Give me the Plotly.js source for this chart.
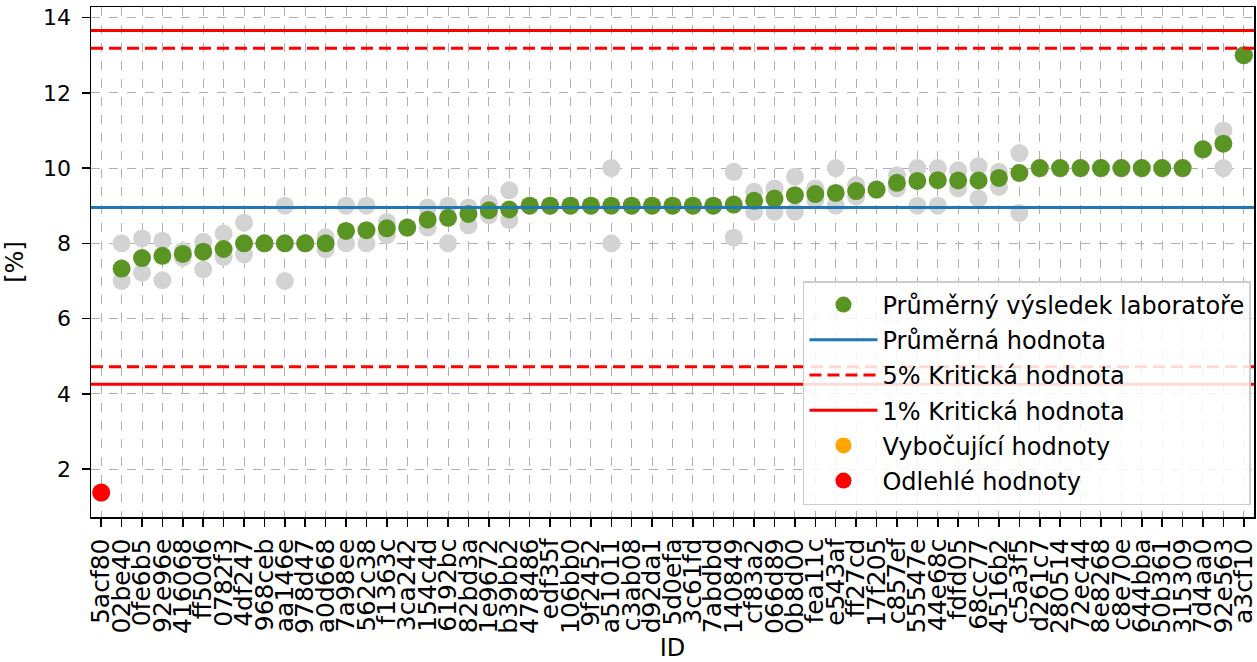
<!DOCTYPE html>
<html>
<head>
<meta charset="utf-8">
<script src="https://cdn.plot.ly/plotly-3.0.1.min.js"></script>
<style>html,body{margin:0;padding:0;background:#fff;}#chart{width:1257px;height:662px;}</style>
</head>
<body>
<div id="chart"></div>
<script>
const labIds = ["5acf80","02be40","0fe6b5","92e96e","416068","ff50d6","0782f3","4df247","968ceb","aa146e","978d47","a0d668","7a98ee","562c38","f1363c","3ca242","154c4d","6192bc","82bd3a","1e9672","b39bb2","478486","edf35f","106bb0","9f2452","a51011","c3ab08","d92da1","5d0efa","3c61fd","7abdbd","140849","cf83a2","066d89","0b8d00","fea11c","e543af","ff27cd","17f205","c857ef","55547e","44e68c","fdfd05","68cc77","4516b2","c5a3f5","d261c7","280514","72ec44","8e8268","c8e70e","644bba","50b361","315309","7d4aa0","92e563","a3cf10"];
const labMeans = [1.38,7.33,7.61,7.67,7.72,7.78,7.85,8.0,8.0,8.0,8.0,8.0,8.33,8.35,8.40,8.42,8.63,8.68,8.78,8.88,8.9,9.0,9.0,9.0,9.0,9.0,9.0,9.0,9.0,9.0,9.0,9.03,9.13,9.19,9.28,9.31,9.34,9.39,9.43,9.61,9.66,9.68,9.67,9.67,9.74,9.87,10.0,10.0,10.0,10.0,10.0,10.0,10.0,10.0,10.5,10.65,13.0];
const resultHigh = [1.38,8.0,8.13,8.07,7.8,8.04,8.26,8.55,8.0,9.0,8.0,8.16,9.0,9.0,8.57,8.42,8.95,9.0,8.95,9.06,9.41,9.0,9.0,9.0,9.0,10.0,9.0,9.0,9.0,9.0,9.0,9.9,9.37,9.46,9.77,9.46,10.0,9.55,9.43,9.81,10.0,10.0,9.94,10.05,9.9,10.4,10.0,10.0,10.0,10.0,10.0,10.0,10.0,10.0,10.5,11.0,13.0];
const resultLow = [1.38,7.0,7.22,7.02,7.62,7.31,7.64,7.71,8.0,7.0,8.0,7.84,8.0,8.0,8.22,8.42,8.42,8.0,8.48,8.75,8.62,9.0,9.0,9.0,9.0,8.0,9.0,9.0,9.0,9.0,9.0,8.15,8.84,8.84,8.84,9.15,9.0,9.24,9.43,9.46,9.0,9.0,9.46,9.19,9.5,8.81,10.0,10.0,10.0,10.0,10.0,10.0,10.0,10.0,10.5,10.0,13.0];
const outlierIds = ["5acf80"];
const overallMean = 8.955;
const crit5 = [4.725, 13.185];
const crit1 = [4.255, 13.655];

const idx = labIds.map((_, i) => i);
const xSpan = [-0.5, labIds.length - 0.5];
const normalIdx = idx.filter(i => !outlierIds.includes(labIds[i]));
const outIdx = idx.filter(i => outlierIds.includes(labIds[i]));

const greyX = [], greyY = [];
idx.forEach(i => { greyX.push(i, i); greyY.push(resultHigh[i], resultLow[i]); });

const F = "DejaVu Sans, sans-serif";
const traces = [
  {x: greyX, y: greyY, mode: "markers", type: "scatter", marker: {color: "#d3d3d3", size: 18}, showlegend: false, hoverinfo: "skip"},
  {x: normalIdx, y: normalIdx.map(i => labMeans[i]), mode: "markers", type: "scatter", name: "Průměrný výsledek laboratoře", legendgroup: "g1", marker: {color: "#5a9423", size: 18}},
  {x: xSpan, y: [overallMean, overallMean], mode: "lines", name: "Průměrná hodnota", legendgroup: "g2", line: {color: "#1f77b4", width: 3}},
  {x: xSpan, y: [crit5[1], crit5[1]], mode: "lines", name: "5% Kritická hodnota", legendgroup: "g3", line: {color: "#ff0000", width: 3, dash: "12px,6px"}},
  {x: xSpan, y: [crit5[0], crit5[0]], mode: "lines", showlegend: false, legendgroup: "g3", line: {color: "#ff0000", width: 3, dash: "12px,6px"}},
  {x: xSpan, y: [crit1[1], crit1[1]], mode: "lines", name: "1% Kritická hodnota", legendgroup: "g4", line: {color: "#ff0000", width: 3}},
  {x: xSpan, y: [crit1[0], crit1[0]], mode: "lines", showlegend: false, legendgroup: "g4", line: {color: "#ff0000", width: 3}},
  {x: [null], y: [null], mode: "markers", name: "Vybočující hodnoty", legendgroup: "g5", marker: {color: "#ffa500", size: 18}},
  {x: outIdx, y: outIdx.map(i => labMeans[i]), mode: "markers", name: "Odlehlé hodnoty", legendgroup: "g6", marker: {color: "#ff0000", size: 18}}
];

const layout = {
  width: 1257, height: 662,
  margin: {l: 91, r: 3, t: 7, b: 145},
  paper_bgcolor: "#fff", plot_bgcolor: "#fff",
  font: {family: F, size: 23, color: "#000"},
  showlegend: true,
  xaxis: {
    range: xSpan, tickvals: idx, ticktext: labIds, tickangle: -90,
    showgrid: true, gridcolor: "#b0b0b0", griddash: "dash", gridwidth: 1,
    showline: true, linecolor: "#000", linewidth: 1.5, mirror: true,
    ticks: "outside", ticklen: 8, tickwidth: 1.5, tickcolor: "#000", zeroline: false,
    ticklabelstandoff: 2, ticklabeloverflow: "allow",
    tickfont: {family: F, size: 25},
    title: {text: "ID", font: {family: F, size: 24}, standoff: 10}
  },
  yaxis: {
    range: [0.73, 14.28], tickvals: [2,4,6,8,10,12,14],
    showgrid: true, gridcolor: "#b0b0b0", griddash: "dash", gridwidth: 1,
    showline: true, linecolor: "#000", linewidth: 1.5, mirror: true,
    ticks: "outside", ticklen: 8, tickwidth: 1.5, tickcolor: "#000", zeroline: false,
    ticklabelstandoff: 6,
    tickfont: {family: F, size: 22},
    title: {text: "[%]", font: {family: F, size: 24}, standoff: 12}
  },
  legend: {
    x: 0.9974, y: 0.0235, xanchor: "right", yanchor: "bottom",
    bgcolor: "rgba(255,255,255,0.85)", bordercolor: "#cccccc", borderwidth: 1.5,
    font: {family: F, size: 24}, traceorder: "grouped", tracegroupgap: 1,
    itemwidth: 68
  }
};
Plotly.newPlot("chart", traces, layout, {displayModeBar: false, staticPlot: true});
</script>
</body>
</html>
